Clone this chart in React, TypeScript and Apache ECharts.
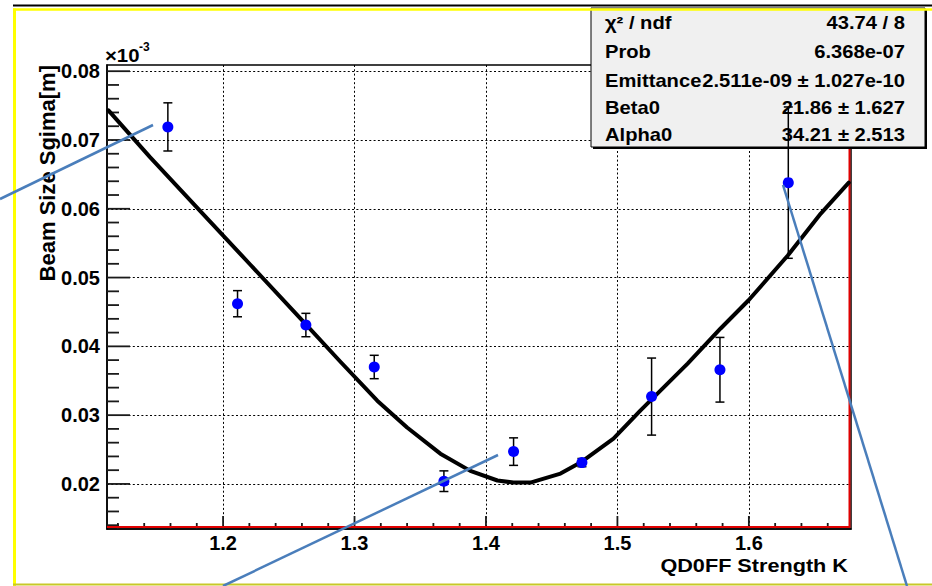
import React, { useEffect, useRef } from "react";
import * as echarts from "echarts";

// ---- data ----
const K_POINTS = [1.158, 1.211, 1.263, 1.315, 1.368, 1.421, 1.473, 1.526, 1.578, 1.63];
const SIGMA = [0.0719, 0.0462, 0.0431, 0.037, 0.0204, 0.0247, 0.0231, 0.0327, 0.0366, 0.0638];
const SIGMA_ERR = [0.0035, 0.0019, 0.0017, 0.0017, 0.0015, 0.002, 0.0006, 0.0056, 0.0047, 0.011];

const FIT_K = [
  1.1128, 1.1444, 1.1825, 1.2206, 1.2586, 1.2891, 1.3173, 1.34, 1.3653, 1.3881, 1.4087, 1.4209,
  1.4338, 1.4567, 1.4719, 1.497, 1.5176, 1.5534, 1.5785, 1.5998, 1.6296, 1.6547, 1.676,
];
const FIT_SIGMA = [
  0.0743, 0.0675, 0.0597, 0.0519, 0.0441, 0.0378, 0.0321, 0.0282, 0.0244, 0.0219, 0.0205, 0.0202,
  0.0202, 0.0215, 0.0231, 0.0266, 0.0307, 0.0375, 0.0426, 0.0467, 0.0532, 0.0593, 0.0638,
];

const X_MAJOR = [1.2, 1.3, 1.4, 1.5, 1.6];
const X_MINOR = [
  1.12, 1.14, 1.16, 1.18, 1.22, 1.24, 1.26, 1.28, 1.32, 1.34, 1.36, 1.38, 1.42, 1.44, 1.46, 1.48,
  1.52, 1.54, 1.56, 1.58, 1.62, 1.64, 1.66,
];
const Y_MAJOR = [0.02, 0.03, 0.04, 0.05, 0.06, 0.07, 0.08];
const Y_MINOR = [
  0.014, 0.016, 0.018, 0.022, 0.024, 0.026, 0.028, 0.032, 0.034, 0.036, 0.038, 0.042, 0.044, 0.046,
  0.048, 0.052, 0.054, 0.056, 0.058, 0.062, 0.064, 0.066, 0.068, 0.072, 0.074, 0.076, 0.078,
];

const X_MIN = 1.1117;
const X_MAX = 1.6777;
const Y_MIN = 0.01345;
const Y_MAX = 0.0809;

const STATS_LEFT = ["χ² / ndf", "Prob", "Emittance", "Beta0", "Alpha0"];
const STATS_RIGHT = ["43.74 / 8", "6.368e-07", "2.511e-09 ± 1.027e-10", "21.86 ± 1.627", "34.21 ± 2.513"];

const FONT = "'Liberation Sans', Arial, Helvetica, sans-serif";

function tickSeries(values: number[], horizontalAxis: boolean, len: number) {
  return {
    type: "custom",
    xAxisIndex: 0,
    yAxisIndex: 0,
    silent: true,
    z: 3,
    clip: false,
    data: values.map((v) => (horizontalAxis ? [v, Y_MIN] : [X_MIN, v])),
    encode: { x: 0, y: 1 },
    renderItem: (params: any, api: any) => {
      const p = api.coord([api.value(0), api.value(1)]);
      const shape = horizontalAxis
        ? { x1: p[0], y1: p[1], x2: p[0], y2: p[1] - len }
        : { x1: p[0], y1: p[1], x2: p[0] + len, y2: p[1] };
      return { type: "line", shape, style: { stroke: "#1a1a1a", lineWidth: 1.8 } };
    },
  };
}

export default function App() {
  const ref = useRef<HTMLDivElement>(null);

  useEffect(() => {
    document.body.style.margin = "0";
    if (!ref.current) return;
    const chart = echarts.init(ref.current, undefined, { renderer: "svg" });

    const gridLine = { show: true, lineStyle: { color: "#000", width: 1, type: [2, 2.3] as any } };

    const rowY = [23, 52, 81, 108, 135];
    const statsTexts: any[] = [];
    STATS_LEFT.forEach((t, i) => {
      statsTexts.push({
        type: "text",
        x: 605,
        y: rowY[i],
        scaleX: 1.12,
        z: 6,
        style: { text: t, fill: "#000", font: `bold 18px ${FONT}`, textAlign: "left", textVerticalAlign: "middle" },
      });
    });
    STATS_RIGHT.forEach((t, i) => {
      statsTexts.push({
        type: "text",
        x: 905,
        y: rowY[i],
        scaleX: 1.12,
        z: 6,
        style: { text: t, fill: "#000", font: `bold 18px ${FONT}`, textAlign: "right", textVerticalAlign: "middle" },
      });
    });

    const blue = "#4a7ebb";

    chart.setOption({
      animation: false,
      backgroundColor: "#fff",
      grid: {
        left: 107,
        top: 65,
        right: 81,
        bottom: 57,
        show: true,
        borderColor: "#000",
        borderWidth: 1.5,
        backgroundColor: "transparent",
      },
      xAxis: {
        type: "value",
        min: X_MIN,
        max: X_MAX,
        position: "bottom",
        axisLine: { show: true, onZero: false, lineStyle: { color: "#000", width: 1.5 } },
        axisTick: { show: false, customValues: X_MAJOR },
        axisLabel: {
          show: true,
          customValues: X_MAJOR,
          margin: 4,
          color: "#000",
          fontFamily: FONT,
          fontWeight: "bold",
          fontSize: 20,
          formatter: (v: number) => v.toFixed(1),
        },
        splitLine: gridLine,
      },
      yAxis: {
        type: "value",
        min: Y_MIN,
        max: Y_MAX,
        position: "left",
        axisLine: { show: true, onZero: false, lineStyle: { color: "#000", width: 1.5 } },
        axisTick: { show: false, customValues: Y_MAJOR },
        axisLabel: {
          show: true,
          customValues: Y_MAJOR,
          margin: 7,
          color: "#000",
          fontFamily: FONT,
          fontWeight: "bold",
          fontSize: 20,
          formatter: (v: number) => v.toFixed(2),
        },
        splitLine: gridLine,
      },
      series: [
        tickSeries(X_MAJOR, true, 13),
        tickSeries(X_MINOR, true, 6),
        tickSeries(Y_MAJOR, false, 23),
        tickSeries(Y_MINOR, false, 12),
        {
          type: "line",
          data: FIT_K.map((k, i) => [k, FIT_SIGMA[i]]),
          symbol: "none",
          lineStyle: { color: "#000", width: 4, join: "round", cap: "round" },
          z: 10,
          silent: true,
        },
        {
          type: "custom",
          data: K_POINTS.map((k, i) => [k, SIGMA[i], SIGMA_ERR[i]]),
          encode: { x: 0, y: 1 },
          z: 11,
          silent: true,
          renderItem: (params: any, api: any) => {
            const x = api.value(0);
            const y = api.value(1);
            const e = api.value(2);
            const top = api.coord([x, y + e]);
            const bot = api.coord([x, y - e]);
            const cap = 4.5;
            const style = { stroke: "#000", lineWidth: 1.5 };
            return {
              type: "group",
              children: [
                { type: "line", shape: { x1: top[0], y1: top[1], x2: bot[0], y2: bot[1] }, style },
                { type: "line", shape: { x1: top[0] - cap, y1: top[1], x2: top[0] + cap, y2: top[1] }, style },
                { type: "line", shape: { x1: bot[0] - cap, y1: bot[1], x2: bot[0] + cap, y2: bot[1] }, style },
              ],
            };
          },
        },
        {
          type: "scatter",
          data: K_POINTS.map((k, i) => [k, SIGMA[i]]),
          symbol: "circle",
          symbolSize: 11,
          itemStyle: { color: "#0000ff", opacity: 1 },
          z: 12,
          silent: true,
        },
      ],
      graphic: [
        // red frame lines (bottom / right)
        { type: "line", z: 4, shape: { x1: 107, y1: 527, x2: 850, y2: 527 }, style: { stroke: "#e00000", lineWidth: 2 } },
        { type: "line", z: 4, shape: { x1: 849.5, y1: 65, x2: 849.5, y2: 528 }, style: { stroke: "#e00000", lineWidth: 2 } },
        // stats box
        { type: "rect", z: 5, shape: { x: 593, y: 10, width: 334, height: 139 }, style: { fill: "#000" } },
        { type: "rect", z: 5, shape: { x: 591, y: 8, width: 334, height: 139 }, style: { fill: "#f0f0f0", stroke: "#000", lineWidth: 1 } },
        ...statsTexts,
        // axis titles
        {
          type: "text",
          x: 848,
          y: 565,
          scaleX: 1.14,
          z: 6,
          style: { text: "QD0FF Strength K", fill: "#000", font: `bold 19px ${FONT}`, textAlign: "right", textVerticalAlign: "middle" },
        },
        {
          type: "text",
          x: 47,
          y: 65,
          rotation: Math.PI / 2,
          z: 6,
          style: { text: "Beam Size Sgima[m]", fill: "#000", font: `bold 22px ${FONT}`, textAlign: "right", textVerticalAlign: "middle" },
        },
        {
          type: "text",
          x: 105,
          y: 56,
          scaleX: 1.13,
          z: 6,
          style: { text: "×10", fill: "#000", font: `bold 18px ${FONT}`, textAlign: "left", textVerticalAlign: "middle" },
        },
        {
          type: "text",
          x: 139,
          y: 47,
          z: 6,
          style: { text: "-3", fill: "#000", font: `bold 12px ${FONT}`, textAlign: "left", textVerticalAlign: "middle" },
        },
        // outer canvas frame
        { type: "line", z: 50, shape: { x1: 13, y1: 5.5, x2: 932, y2: 5.5 }, style: { stroke: "#000", lineWidth: 2 } },
        { type: "line", z: 50, shape: { x1: 13, y1: 9.5, x2: 932, y2: 9.5 }, style: { stroke: "#ffff00", lineWidth: 2.5 } },
        { type: "line", z: 50, shape: { x1: 14.5, y1: 8.5, x2: 14.5, y2: 586 }, style: { stroke: "#ffff00", lineWidth: 3 } },
        { type: "line", z: 50, shape: { x1: 13, y1: 584.5, x2: 932, y2: 584.5 }, style: { stroke: "#c8c828", lineWidth: 2 } },
        // annotation lines
        { type: "line", z: 60, shape: { x1: 0, y1: 199, x2: 153, y2: 125 }, style: { stroke: blue, lineWidth: 2.5 } },
        { type: "line", z: 60, shape: { x1: 223, y1: 586, x2: 498, y2: 455 }, style: { stroke: blue, lineWidth: 2.5 } },
        { type: "line", z: 60, shape: { x1: 783, y1: 185, x2: 907, y2: 586 }, style: { stroke: blue, lineWidth: 2.5 } },
      ],
    });

    return () => chart.dispose();
  }, []);

  return <div ref={ref} style={{ width: 932, height: 586 }} />;
}
